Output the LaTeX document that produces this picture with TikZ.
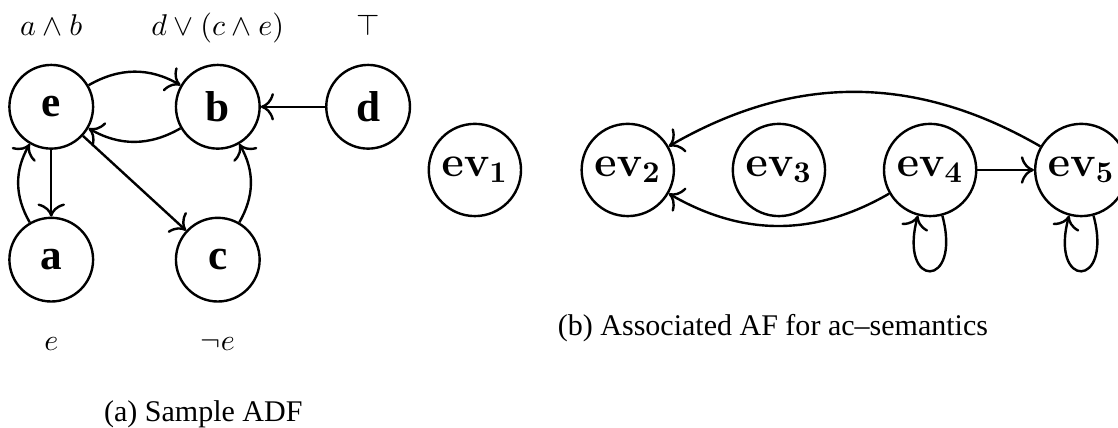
\documentclass[tikz,border=0pt]{standalone}
\usepackage{amsmath}
\usepackage{amssymb}
\usepackage[no-math]{fontspec}
\setmainfont{Liberation Serif}
\usetikzlibrary{arrows.meta,positioning}
\definecolor{adfink}{HTML}{000000}

\begin{document}
\begin{tikzpicture}[
  font=\rmfamily,
  arg/.style={
    circle, draw=adfink, text=adfink, line width=0.8pt,
    minimum size=0.98cm, inner sep=0pt, font=\rmfamily\bfseries\Large
  },
  evnode/.style={
    circle, draw=adfink, text=adfink, line width=0.8pt,
    minimum size=1.08cm, inner sep=0pt, font=\Large
  },
  att/.style={draw=adfink, line width=0.8pt, -{To[scale=1.3]}},
  cond/.style={anchor=base, font=\normalsize, text=adfink},
  capt/.style={anchor=base, font=\rmfamily\normalsize, text=adfink},
]
\useasboundingbox (0,0) rectangle (13.09,-5.01);

% ---- sample ADF ----
\def\yT{-1.25}
\def\yB{-3.04}
\node[arg] (e) at (0.60,\yT) {e};
\node[arg] (b) at (2.55,\yT) {b};
\node[arg] (d) at (4.31,\yT) {d};
\node[arg] (a) at (0.60,\yB) {a};
\node[arg] (c) at (2.55,\yB) {c};

% acceptance conditions
\node[cond] (ce) at (0.60,-0.41) {$a \wedge b$};
\node[cond] (cb) at (2.55,-0.41) {$d \vee (c \wedge e)$};
\node[cond] (cd) at (4.31,-0.41) {$\top$};
\node[cond] (ca) at (0.60,-4.10) {$e$};
\node[cond] (cc) at (2.55,-4.10) {$\neg e$};

\draw[att] (e) to[bend left=30] (b);
\draw[att] (b) to[bend left=30] (e);
\draw[att] (d) -- (b);
\draw[att] (e) -- (a);
\draw[att] (a) to[bend left=30] (e);
\draw[att] (e) -- (c);
\draw[att] (c) to[bend right=30] (b);

\node[capt] (capA) at (2.38,-4.94) {(a) Sample ADF};

% ---- associated AF ----
\def\yE{-1.99}
\foreach \i/\x in {1/5.56,2/7.35,3/9.12,4/10.89,5/12.66}{
  \node[evnode] (ev\i) at (\x,\yE) {$\mathbf{ev_{\i}}$};
}

\draw[att] (ev4) -- (ev5);
\draw[att] (ev4) to[bend left=30] (ev2);
\draw[att] (ev5) to[bend right=30] (ev2);
\draw[att] (ev4) to[out=-75, in=-105, looseness=8, min distance=5mm] (ev4);
\draw[att] (ev5) to[out=-75, in=-105, looseness=8, min distance=5mm] (ev5);

\node[capt] (capB) at (9.05,-3.93) {(b) Associated AF for ac--semantics};

\end{tikzpicture}
\end{document}
